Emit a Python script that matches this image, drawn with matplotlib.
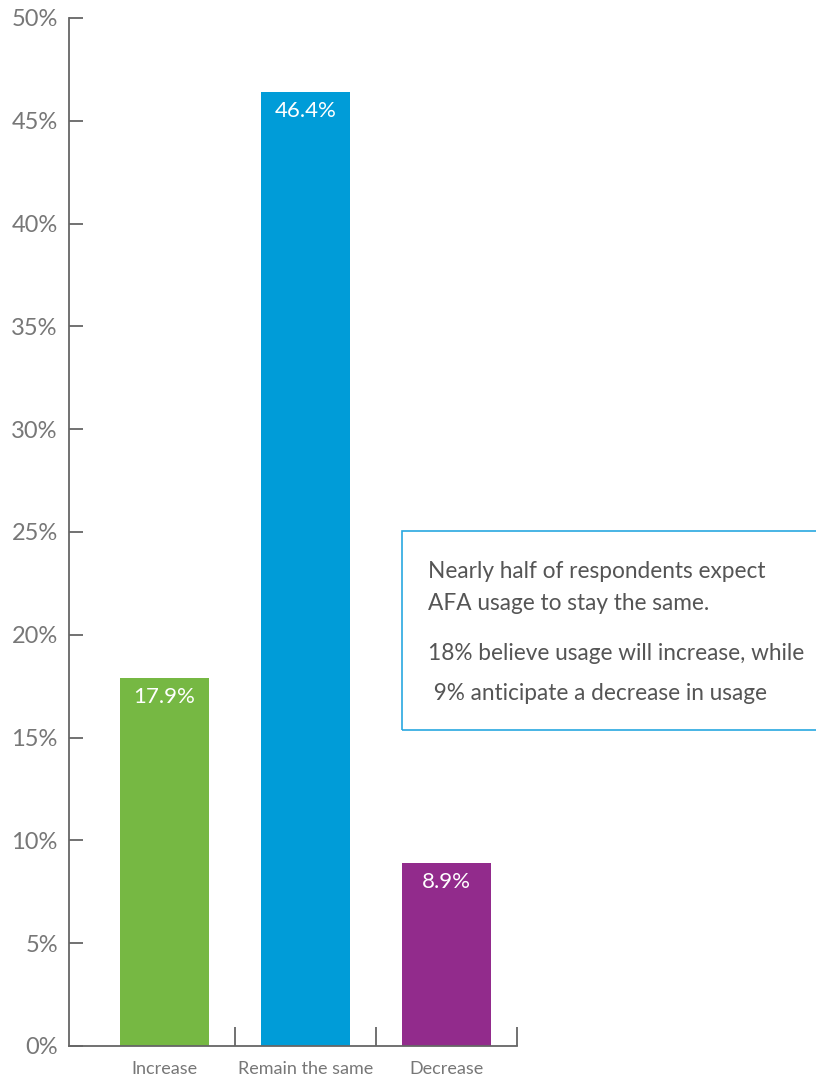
import matplotlib
matplotlib.use('Agg')
import matplotlib.pyplot as plt
from matplotlib.patches import Rectangle

categories = ['Increase', 'Remain the same', 'Decrease']
values = [17.9, 46.4, 8.9]
colors = ['#76b843', '#009cd8', '#922b8c']
yticks = [0, 5, 10, 15, 20, 25, 30, 35, 40, 45, 50]
note_lines = ['Nearly half of respondents expect', 'AFA usage to stay the same.',
              '18% believe usage will increase, while', ' 9% anticipate a decrease in usage']

plt.rcParams['font.family'] = ['Lato', 'DejaVu Sans']
gray = '#666666'

fig = plt.figure(figsize=(8.16, 10.76), dpi=100)
ax = fig.add_axes([69 / 816, 30 / 1076, 448 / 816, 1028 / 1076])

x = list(range(len(categories)))
ax.bar(x, values, width=0.63, color=colors, zorder=2)

# value labels inside the top of each bar
for xi, v in zip(x, values):
    ax.text(xi, v - 0.45, '{:.1f}%'.format(v), ha='center', va='top',
            color='white', fontsize=16)

ax.set_xlim(-0.677, 2.5)
ax.set_ylim(0, 50)
ax.set_yticks(yticks)
ax.set_yticklabels(['{}%'.format(t) for t in yticks])
ax.set_xticks(x)
ax.set_xticklabels(categories)
ax.set_xticks([0.5, 1.5, 2.5], minor=True)

ax.tick_params(axis='y', direction='in', length=10, width=1.3, color=gray,
               labelsize=17, labelcolor='#777777', pad=8)
ax.tick_params(axis='x', which='major', length=0, labelsize=13, labelcolor='#777777', pad=11)
ax.tick_params(axis='x', which='minor', direction='in', length=14, width=1.3, color=gray)

for side in ['top', 'right']:
    ax.spines[side].set_visible(False)
for side in ['left', 'bottom']:
    ax.spines[side].set_color(gray)
    ax.spines[side].set_linewidth(1.3)

# annotation box on the right
box = Rectangle((402 / 816, 1 - 730 / 1076), 420 / 816, 199 / 1076,
                transform=fig.transFigure, fill=False, edgecolor='#29a8e0', linewidth=1.2)
fig.patches.append(box)
line_y = [571, 604, 653, 693]
for txt, py in zip(note_lines, line_y):
    fig.text(428 / 816, 1 - py / 1076, txt, ha='left', va='center',
             fontsize=16.3, color='#555555')

fig.savefig('out.png', dpi=100)
